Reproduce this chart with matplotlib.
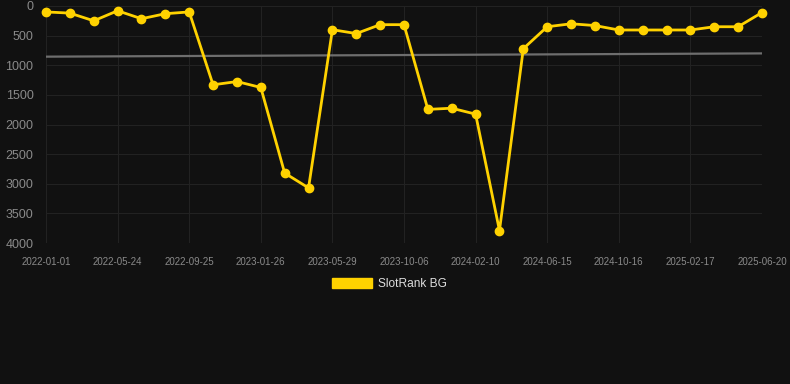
import matplotlib
matplotlib.use("Agg")
import matplotlib.pyplot as plt
from matplotlib.patches import Patch
import numpy as np

plt.rcParams["font.family"] = ["Liberation Sans", "DejaVu Sans"]

# rank per snapshot (lower is better)
ranks = [100, 120, 250, 80, 215, 130, 100, 1330, 1275, 1375, 2820, 3070,
         400, 465, 315, 315, 1745, 1725, 1825, 3790, 720, 350, 300, 330,
         405, 405, 405, 405, 350, 350, 110]
tick_idx = [0, 3, 6, 9, 12, 15, 18, 21, 24, 27, 30]
tick_labels = ["2022-01-01", "2022-05-24", "2022-09-25", "2023-01-26",
               "2023-05-29", "2023-10-06", "2024-02-10", "2024-06-15",
               "2024-10-16", "2025-02-17", "2025-06-20"]
trend_ends = [855, 800]

BG = "#111111"
GOLD = "#FFD200"

fig = plt.figure(figsize=(7.9, 3.84), dpi=100, facecolor=BG)
ax = fig.add_axes([46 / 790, 1 - 243 / 384, 716 / 790, 237 / 384])
ax.set_facecolor(BG)

x = np.arange(len(ranks))
ax.plot([x[0], x[-1]], trend_ends, color="#6e6e6e", lw=1.6, zorder=2)
ax.plot(x, ranks, color=GOLD, lw=2.0, marker="o", ms=6, zorder=3, clip_on=False)

ax.set_xlim(0, len(ranks) - 1)
ax.set_ylim(4000, 0)
ax.set_yticks(range(0, 4001, 500))
ax.set_xticks(tick_idx)
ax.set_xticklabels(tick_labels)
ax.grid(True, color="#222222", lw=0.8)
ax.set_axisbelow(True)
for s in ax.spines.values():
    s.set_visible(False)
ax.tick_params(axis="y", colors="#8a8a8a", labelsize=9, length=0, pad=9)
ax.tick_params(axis="x", colors="#8a8a8a", labelsize=7, length=0, pad=10)

fig.legend(handles=[Patch(facecolor=GOLD, edgecolor=GOLD, label="SlotRank BG")],
           loc="center", bbox_to_anchor=(389.5 / 790, 1 - 284 / 384), frameon=False,
           fontsize=8.6, labelcolor="#dddddd", handlelength=3.35, handleheight=1.0,
           handletextpad=0.5)

fig.savefig("out.png", dpi=100, facecolor=BG)
